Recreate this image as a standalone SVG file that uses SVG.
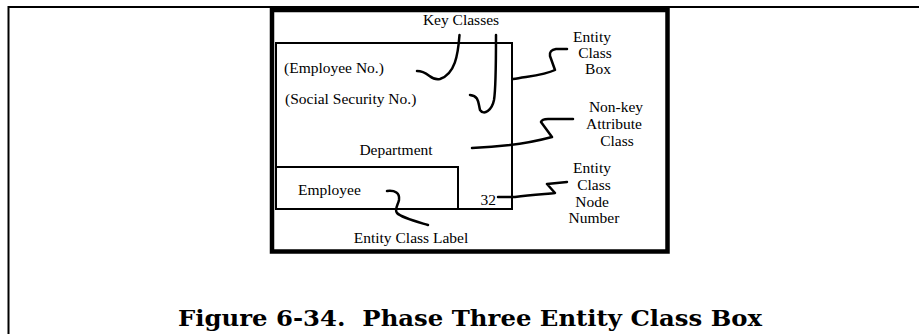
<svg xmlns="http://www.w3.org/2000/svg" width="919" height="334" viewBox="0 0 919 334">
<style>
.t{font-family:"Liberation Serif","Times New Roman",serif;font-size:15.5px;fill:#000}
.m{text-anchor:middle}
.box{fill:none;stroke:#000;stroke-width:2}
.c{fill:none;stroke:#000;stroke-width:2.5;stroke-linecap:round;stroke-linejoin:round}
.title{font-family:"DejaVu Serif","Liberation Serif",serif;font-weight:bold;font-size:21.5px;fill:#000;white-space:pre}
</style>
<g id="frame">
<path d="M8.5 334 V7 H919" fill="none" stroke="#000" stroke-width="2"/>
<rect x="272" y="10" width="395.5" height="241.5" fill="none" stroke="#000" stroke-width="4.5"/>
</g>
<g id="entity-box">
<rect class="box" x="276" y="43" width="236" height="166"/>
<text class="t" x="284" y="73">(Employee No.)</text>
<text class="t" x="285" y="104">(Social Security No.)</text>
<text class="t m" x="396" y="155">Department</text>
<text class="t" x="496" y="205" text-anchor="end">32</text>
</g>
<g id="label-box">
<rect class="box" x="276" y="167" width="182" height="42"/>
<text class="t" x="298" y="195">Employee</text>
</g>
<g id="key-classes"><text class="t m" x="461" y="25">Key Classes</text></g>
<g id="entity-class-label"><text class="t m" x="411" y="243">Entity Class Label</text></g>
<g id="entity-class-box-label">
<text class="t m" x="592" y="42">Entity</text>
<text class="t m" x="595" y="58">Class</text>
<text class="t m" x="598" y="74">Box</text>
</g>
<g id="nonkey-label">
<text class="t m" x="616" y="112">Non-key</text>
<text class="t m" x="614" y="129">Attribute</text>
<text class="t m" x="617" y="145.5">Class</text>
</g>
<g id="node-number-label">
<text class="t m" x="592" y="173">Entity</text>
<text class="t m" x="594" y="190">Class</text>
<text class="t m" x="592" y="206.5">Node</text>
<text class="t m" x="594" y="222.5">Number</text>
</g>
<g id="connectors">
<path class="c" d="M459.5 35 C458 55 455 74 440 79 C430 81 429 71 417 71"/>
<path class="c" d="M496 35 C496 60 496 88 494 100 C492 110 484 116 480 110 C478 102 479 96 470 95"/>
<path class="c" d="M513 79 C530 76 545 75 555 70 L550 56 Q549 50 556 49 L567 49"/>
<path class="c" d="M472 148 C500 147 530 143 552 137 L541 122 Q542 119 548 119 L573 119"/>
<path class="c" d="M498 197 L515 197 C530 195 545 194 555 193 L547 184 L567 182"/>
<path class="c" d="M387 191 C395 190 400 193 399 200 C398 205 394 210 397 213 C402 218 418 222 428 225"/>
</g>
<g id="caption">
<text class="title" x="178" y="326" textLength="584" lengthAdjust="spacingAndGlyphs" xml:space="preserve">Figure 6-34.&#160; Phase Three Entity Class Box</text>
</g>
</svg>
